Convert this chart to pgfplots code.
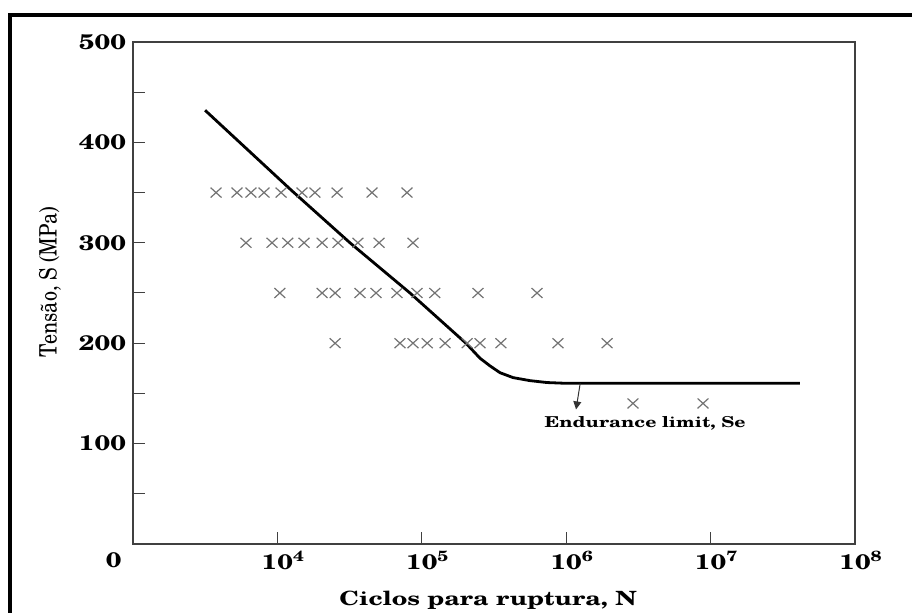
\documentclass[border=0pt]{standalone}
\usepackage{fontspec}
\setmainfont{TeX Gyre Schola}
\newfontfamily\wide{TeX Gyre Schola}[FakeStretch=1.3]
\usepackage{pgfplots}
\pgfplotsset{compat=1.18}
\usetikzlibrary{arrows.meta}

\pgfplotstableread{
N S
3.155e3 432
1.256e4 352
3.18e4 300
8.28e4 250
2.02e5 200
2.53e5 185
2.96e5 177.5
3.48e5 170.6
4.29e5 165.7
5.61e5 162.7
7.36e5 160.8
1.01e6 160
4.16e7 160
}\curve

\pgfplotstableread{
N S
3.76e3 350
5.25e3 350
6.56e3 350
8.08e3 350
1.06e4 350
1.48e4 350
1.82e4 350
2.59e4 350
4.52e4 350
7.90e4 350
6.06e3 300
9.18e3 300
1.18e4 300
1.53e4 300
2.04e4 300
2.63e4 300
3.61e4 300
5.06e4 300
8.69e4 300
1.04e4 250
2.04e4 250
2.51e4 250
3.73e4 250
4.82e4 250
6.73e4 250
9.27e4 250
1.23e5 250
2.45e5 250
6.28e5 250
2.51e4 200
7.06e4 200
8.69e4 200
1.09e5 200
1.45e5 200
2.06e5 200
2.53e5 200
3.53e5 200
8.77e5 200
1.92e6 200
2.90e6 140
8.86e6 140
}\tests

\begin{document}
\begin{tikzpicture}
\begin{semilogxaxis}[
    scale only axis,
    width=361pt, height=251pt,
    xmin=1e3, xmax=1e8,
    ymin=0, ymax=500,
    tick pos=left,
    tick align=inside,
    major tick length=6pt,
    minor tick length=6pt,
    xminorticks=false,
    xtick={1e4,1e5,1e6,1e7,1e8},
    xticklabels={10\rlap{\textsuperscript{4}},10\rlap{\textsuperscript{5}},10\rlap{\textsuperscript{6}},10\rlap{\textsuperscript{7}},10\rlap{\textsuperscript{8}}},
    ytick={100,200,300,400,500},
    yticklabels={100,200,300,400,500},
    minor ytick={50,150,250,350,450},
    tick label style={font=\wide\bfseries\fontsize{10.5}{12}\selectfont},
    axis line style={black!75, line width=0.6pt},
    every tick/.style={black!75, line width=0.5pt},
    ylabel={\scalebox{1}[1.2]{Tensão, S (MPa)}},
    ylabel style={font=\fontsize{10}{12}\selectfont,
        at={(axis description cs:-0.115,0.522)}, anchor=center},
]
\addplot[only marks, mark=x, mark size=3.5pt, black!55,
    mark options={line width=0.6pt, xscale=1.1}] table[x=N, y=S] {\tests};
\addplot[black, line width=1.4pt, line join=round] table[x=N, y=S] {\curve};
\draw[black!80, line width=0.5pt, -{Triangle[length=4pt, width=4pt]}]
    (axis cs:1.25e6,160) -- (axis cs:1.17e6,134);
\node[font=\wide\bfseries\fontsize{7.5}{9}\selectfont] at (axis cs:3.52e6,120)
    {Endurance limit, Se};
\end{semilogxaxis}
% zero at the corner and the x axis title
\node[anchor=north east, inner sep=0pt,
    font=\wide\bfseries\fontsize{10.5}{12}\selectfont] at (-5.5pt,-4pt) {0};
\node[anchor=center, inner sep=0pt,
    font=\bfseries\fontsize{9.8}{11}\selectfont] at (177.5pt,-28pt)
    {\scalebox{1.3}[1]{Ciclos para ruptura, N}};
\pgfresetboundingbox
\useasboundingbox (-66.5pt,-34.5pt) rectangle (389.5pt,272pt);
\draw[black, line width=1.8pt] (-61.5pt,-60pt) |- (420pt,264.5pt);
\end{tikzpicture}
\end{document}
